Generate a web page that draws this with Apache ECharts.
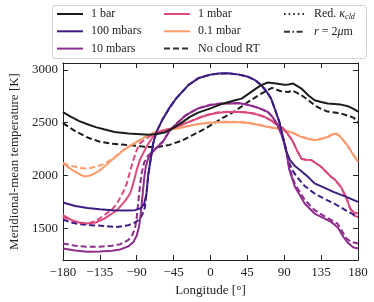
<!DOCTYPE html>
<html><head><meta charset="utf-8">
<script src="https://cdn.jsdelivr.net/npm/echarts@6/dist/echarts.min.js"></script>
<style>html,body{margin:0;padding:0;background:#fff}#c{width:374px;height:302px}</style>
</head><body><div id="c"></div>
<script>
const xTicks = [-180, -135, -90, -45, 0, 45, 90, 135, 180];
const yTicks = [1500, 2000, 2500, 3000];
const levelNames = ['1 bar', '100 mbars', '10 mbars', '1 mbar', '0.1 mbar'];
const styleNames = ['No cloud RT', 'Red. κcld', 'r = 2μm'];

// [longitude, temperature K]
const bar1 = [[-180,2600],[-170,2555],[-160,2515],[-150,2485],[-140,2458],[-130,2437],[-117,2412],[-100,2397],[-85,2390],[-75,2385],[-65,2392],[-55,2410],[-45,2450],[-35,2500],[-25,2555],[-15,2595],[0,2635],[15,2680],[30,2712],[38,2728],[45,2765],[55,2820],[62,2855],[70,2880],[80,2870],[90,2860],[95,2862],[101,2870],[111,2823],[120,2755],[127,2713],[135,2695],[143,2681],[159,2671],[168,2655],[174,2633],[180,2605]];
const bar1NoCloud = [[-180,2495],[-165,2420],[-150,2360],[-135,2320],[-120,2300],[-105,2290],[-90,2280],[-75,2270],[-65,2268],[-50,2290],[-35,2330],[-20,2390],[-5,2450],[0,2475],[15,2545],[30,2610],[46,2697],[62,2775],[75,2830],[85,2800],[95,2790],[100,2805],[110,2765],[120,2710],[127,2665],[135,2630],[143,2605],[159,2588],[170,2560],[175,2545],[180,2495]];
const mbar100 = [[-180,1745],[-165,1712],[-150,1692],[-135,1680],[-120,1672],[-105,1668],[-92,1672],[-85,1690],[-81,1730],[-78,1830],[-76,2000],[-73,2150],[-70,2300],[-66,2410],[-58,2538],[-50,2640],[-42,2728],[-27,2855],[-15,2920],[0,2955],[10,2965],[22,2968],[35,2955],[46,2934],[55,2900],[62,2855],[68,2800],[74,2728],[79,2620],[84,2507],[88,2380],[92,2240],[97,2146],[103,2090],[111,2040],[120,1980],[127,1925],[140,1880],[150,1845],[165,1800],[180,1750]];
const mbar100NoCloud = [[-180,1583],[-170,1555],[-160,1538],[-145,1530],[-130,1522],[-114,1513],[-100,1530],[-92,1555],[-86,1590],[-82,1650],[-80,1700],[-78,1830],[-76,2000],[-73,2150],[-70,2300],[-66,2410],[-58,2538],[-50,2640],[-42,2728],[-27,2855],[-15,2920],[0,2955],[10,2965],[22,2968],[35,2955],[46,2934],[55,2900],[62,2855],[68,2800],[74,2728],[79,2620],[84,2507],[88,2380],[92,2240],[96,2120],[100,2050],[105,1992],[115,1900],[127,1830],[140,1775],[151,1735],[165,1670],[180,1609]];
const mbar10 = [[-180,1308],[-165,1290],[-150,1278],[-135,1280],[-120,1288],[-110,1300],[-100,1330],[-94,1371],[-90,1430],[-87,1520],[-85,1640],[-83,1800],[-81,1960],[-79,2080],[-76,2160],[-72,2210],[-66,2260],[-58,2320],[-50,2420],[-40,2500],[-30,2570],[-15,2635],[0,2668],[15,2682],[36,2684],[50,2660],[60,2635],[70,2601],[76,2550],[82,2475],[87,2380],[92,2260],[96,2060],[103,1893],[115,1735],[127,1640],[140,1590],[147,1561],[152,1530],[156,1500],[162,1420],[168,1360],[174,1320],[180,1308]];
const mbar10NoCloud = [[-180,1356],[-165,1335],[-150,1325],[-135,1326],[-120,1335],[-110,1350],[-100,1390],[-95,1440],[-92,1500],[-90,1600],[-88,1750],[-86,1900],[-84,2020],[-81,2120],[-76,2190],[-70,2230],[-66,2262],[-58,2322],[-50,2422],[-40,2502],[-30,2572],[-15,2637],[0,2670],[15,2684],[36,2686],[50,2662],[60,2637],[70,2603],[76,2552],[82,2477],[87,2382],[92,2260],[96,2080],[103,1920],[115,1770],[127,1672],[140,1610],[148,1575],[155,1545],[160,1480],[166,1403],[172,1370],[180,1356]];
const mbar1 = [[-180,1624],[-170,1580],[-160,1555],[-150,1545],[-140,1555],[-130,1590],[-120,1640],[-114,1672],[-105,1750],[-98,1830],[-94,1930],[-90,2051],[-86,2150],[-82,2210],[-76,2300],[-70,2367],[-64,2410],[-55,2430],[-42,2459],[-25,2510],[-11,2554],[0,2580],[10,2595],[22,2601],[35,2600],[46,2595],[56,2580],[66,2554],[75,2515],[82,2475],[88,2450],[94,2396],[100,2330],[106,2230],[111,2158],[116,2150],[123,2146],[135,2083],[147,1988],[152,1960],[159,1893],[164,1820],[167,1767],[170,1690],[175,1650],[180,1640]];
const mbar1NoCloud = [[-180,1608],[-170,1575],[-160,1550],[-150,1545],[-140,1570],[-130,1620],[-120,1680],[-114,1735],[-106,1850],[-102,1925],[-98,2040],[-94,2146],[-90,2240],[-86,2304],[-80,2340],[-72,2380],[-64,2410],[-55,2432],[-42,2462],[-25,2513],[-11,2557],[0,2583],[10,2598],[22,2604],[35,2603],[46,2598],[56,2583],[66,2557],[75,2518],[82,2478],[88,2450],[94,2396],[100,2330],[106,2230],[111,2158],[116,2150],[123,2146],[135,2083],[147,1988],[152,1960],[159,1893],[165,1800],[170,1700],[175,1620],[180,1608]];
const mbar01 = [[-180,2115],[-172,2070],[-165,2035],[-158,2005],[-153,1990],[-147,2000],[-141,2020],[-133,2060],[-125,2115],[-115,2180],[-106,2241],[-96,2290],[-86,2336],[-76,2380],[-66,2412],[-55,2430],[-42,2443],[-25,2470],[-11,2491],[0,2500],[10,2505],[22,2507],[35,2505],[46,2497],[58,2480],[70,2459],[85,2440],[93,2420],[100,2405],[111,2364],[120,2345],[127,2333],[135,2345],[143,2364],[149,2390],[153,2396],[158,2370],[167,2286],[173,2210],[180,2130]];
const mbar01NoCloud = [[-180,2120],[-172,2095],[-165,2083],[-158,2070],[-153,2067],[-147,2070],[-141,2083],[-133,2100],[-125,2130],[-115,2185],[-106,2243],[-96,2292],[-86,2338],[-76,2382],[-66,2414],[-55,2432],[-42,2445],[-25,2472],[-11,2493],[0,2502],[10,2507],[22,2509],[35,2507],[46,2499],[58,2482],[70,2461],[85,2442],[93,2422],[100,2407],[111,2366],[120,2347],[127,2335],[135,2347],[143,2366],[149,2392],[153,2398],[158,2372],[167,2288],[173,2212],[180,2132]];

const colors = {'1 bar':'#1c1c1c','100 mbars':'#3e1d80','10 mbars':'#8e2d8c','1 mbar':'#dc4a7c','0.1 mbar':'#fc9a6c'};
const FONT = '"Liberation Serif", "DejaVu Serif", serif';
const DASH = [6, 3], DOT = [1.6, 3], DASHDOT = [6, 2.5, 1.6, 2.5];

function line(name, data, color, type, z) {
  return {type:'line', name, data, symbol:'none', showSymbol:false, silent:true, z:z||2,
    lineStyle:{color, width:2, type:type||'solid'}, itemStyle:{color}, emphasis:{disabled:true}};
}
const series = [
  line('1 bar NC', bar1NoCloud, colors['1 bar'], DASH),
  line('0.1 mbar NC', mbar01NoCloud, colors['0.1 mbar'], DASH),
  line('1 mbar NC', mbar1NoCloud, colors['1 mbar'], DASH),
  line('10 mbars NC', mbar10NoCloud, colors['10 mbars'], DASH),
  line('100 mbars NC', mbar100NoCloud, colors['100 mbars'], DASH),
  line('0.1 mbar', mbar01, colors['0.1 mbar'], 'solid', 3),
  line('1 mbar', mbar1, colors['1 mbar'], 'solid', 3),
  line('10 mbars', mbar10, colors['10 mbars'], 'solid', 3),
  line('100 mbars', mbar100, colors['100 mbars'], 'solid', 3),
  line('1 bar', bar1, colors['1 bar'], 'solid', 3),
  line('No cloud RT', [], '#333333', DASH),
  line('Red. κcld', [], '#333333', DOT),
  line('r = 2μm', [], '#333333', DASHDOT)
];

const legendText = {fontFamily:FONT, fontSize:12, color:'#222', padding:[0,0,0,3],
  rich:{it:{fontFamily:FONT, fontSize:12, fontStyle:'italic', color:'#222'},
        sub:{fontFamily:FONT, fontSize:8, fontStyle:'italic', color:'#222', padding:[5,0,0,0]}}};
function legendFmt(n){
  if (n === 'Red. κcld') return 'Red. {it|κ}{sub|cld}';
  if (n === 'r = 2μm') return '{it|r} = 2{it|μ}m';
  return n;
}
const legendBase = {orient:'vertical', top:8, padding:0, itemWidth:26, itemHeight:12, itemGap:5.3,
  selectedMode:false, formatter:legendFmt, textStyle:legendText,
  itemStyle:{color:'transparent', borderWidth:0, opacity:0}};

const axisCol = '#222';
const axisLabelStyle = {fontFamily:FONT, fontSize:13, color:'#222'};
const minus = v => (v < 0 ? '\u2212' + (-v) : '' + v);

const chart = echarts.init(document.getElementById('c'), null, {renderer:'canvas'});
chart.setOption({
  animation:false,
  backgroundColor:'#fff',
  grid:{left:54, right:16, top:63, bottom:42},
  graphic:[{type:'rect', left:52, top:5, shape:{width:314, height:53, r:3}, z:-1,
    style:{fill:'#fff', stroke:'#d0d0d0', lineWidth:1}}],
  legend:[
    Object.assign({}, legendBase, {data:['1 bar','100 mbars','10 mbars'], left:56}),
    Object.assign({}, legendBase, {data:['1 mbar','0.1 mbar','No cloud RT'], left:163}),
    Object.assign({}, legendBase, {data:['Red. κcld','r = 2μm'], left:283, itemWidth:20,
      textStyle:Object.assign({}, legendText, {padding:[0,0,0,5]})})
  ],
  xAxis:[
    {type:'value', min:-180, max:180, interval:45, position:'bottom',
     axisLine:{show:true, onZero:false, lineStyle:{color:axisCol, width:1}},
     axisTick:{show:true, inside:true, length:5, lineStyle:{color:axisCol}},
     axisLabel:Object.assign({formatter:minus, margin:6}, axisLabelStyle),
     splitLine:{show:false},
     name:'Longitude [°]', nameLocation:'middle', nameGap:24,
     nameTextStyle:{fontFamily:FONT, fontSize:13, color:'#222'}},
    {type:'value', min:-180, max:180, interval:45, position:'top',
     axisLine:{show:true, onZero:false, lineStyle:{color:axisCol, width:1}},
     axisTick:{show:true, inside:true, length:5, lineStyle:{color:axisCol}},
     axisLabel:{show:false}, splitLine:{show:false}}
  ],
  yAxis:[
    {type:'value', min:1200, max:3065, position:'left',
     axisLine:{show:true, onZero:false, lineStyle:{color:axisCol, width:1}},
     axisTick:{show:true, inside:true, length:5, customValues:yTicks, lineStyle:{color:axisCol}},
     axisLabel:Object.assign({customValues:yTicks, margin:5, formatter:v => '' + v}, axisLabelStyle),
     splitLine:{show:false},
     name:'Meridional-mean temperature [K]', nameLocation:'middle', nameGap:35, nameRotate:90,
     nameTextStyle:{fontFamily:FONT, fontSize:13, color:'#222'}},
    {type:'value', min:1200, max:3065, position:'right',
     axisLine:{show:true, onZero:false, lineStyle:{color:axisCol, width:1}},
     axisTick:{show:true, inside:true, length:5, customValues:yTicks, lineStyle:{color:axisCol}},
     axisLabel:{show:false}, splitLine:{show:false}}
  ],
  series: series.map(s => Object.assign(s, {xAxisIndex:0, yAxisIndex:0}))
});
</script>
</body></html>
